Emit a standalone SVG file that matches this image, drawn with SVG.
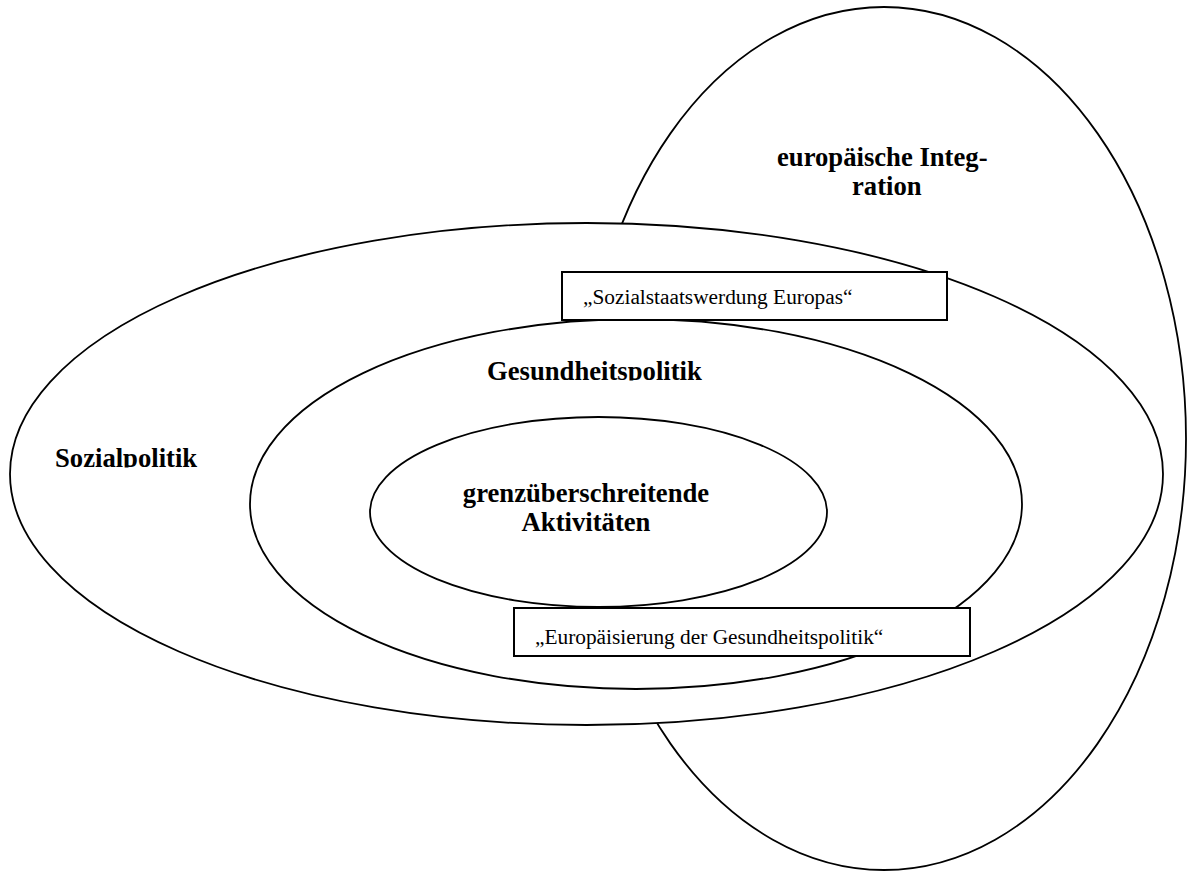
<svg xmlns="http://www.w3.org/2000/svg" width="1192" height="872" viewBox="0 0 1192 872">
<style>
.ell{fill:#fff;stroke:#000;stroke-width:1.8}
.box{fill:#fff;stroke:#000;stroke-width:2}
.lbl{font-family:"Liberation Serif","Times New Roman",serif;font-weight:bold;font-size:26.67px;fill:#000}
.btx{font-family:"Liberation Serif","Times New Roman",serif;font-size:21.33px;fill:#000}
</style>
<defs>
<clipPath id="clipSoz"><rect x="40" y="420" width="200" height="47.5"/></clipPath>
<clipPath id="clipGes"><rect x="470" y="340" width="260" height="40.5"/></clipPath>
</defs>
<rect width="1192" height="872" fill="#fff"/>
<g id="europaeische-integration">
<ellipse class="ell" cx="884" cy="438.5" rx="302" ry="431.5"/>
<text class="lbl" x="777" y="166">europäische Integ-</text>
<text class="lbl" x="852" y="195">ration</text>
</g>
<g id="sozialpolitik">
<ellipse class="ell" cx="586.5" cy="474" rx="576.5" ry="251"/>
<text class="lbl" x="55" y="467" clip-path="url(#clipSoz)">Sozialpolitik</text>
</g>
<g id="gesundheitspolitik">
<ellipse class="ell" cx="636" cy="504" rx="386" ry="185"/>
<text class="lbl" x="487" y="380" clip-path="url(#clipGes)">Gesundheitspolitik</text>
</g>
<g id="grenzueberschreitende-aktivitaeten">
<ellipse class="ell" cx="598.5" cy="512" rx="228.5" ry="95"/>
<text class="lbl" x="586" y="502" text-anchor="middle">grenzüberschreitende</text>
<text class="lbl" x="586" y="531" text-anchor="middle">Aktivitäten</text>
</g>
<g id="sozialstaatswerdung">
<rect class="box" x="562" y="272" width="385" height="48"/>
<text class="btx" x="583" y="304">„Sozialstaatswerdung Europas“</text>
</g>
<g id="europaeisierung">
<rect class="box" x="514" y="608" width="456" height="48"/>
<text class="btx" x="535" y="644">„Europäisierung der Gesundheitspolitik“</text>
</g>
<g id="connectors"/>
</svg>
